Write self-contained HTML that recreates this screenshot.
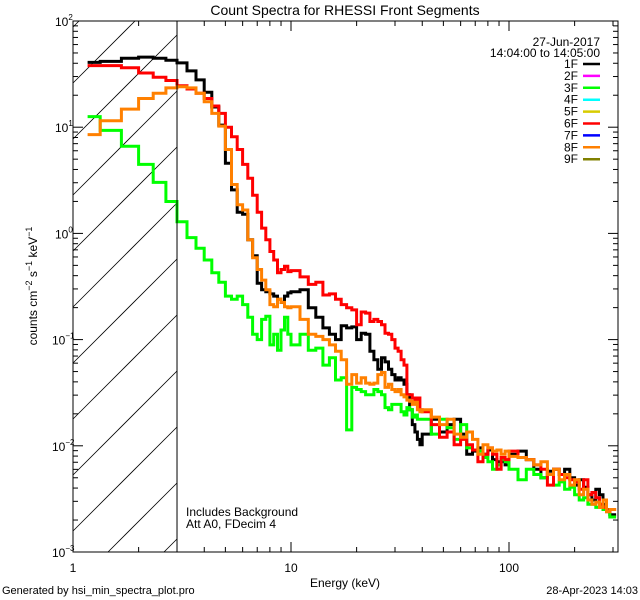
<!DOCTYPE html>
<html><head><meta charset="utf-8"><style>
html,body{margin:0;padding:0;background:#fff;width:640px;height:600px;overflow:hidden}
svg{display:block;font-family:"Liberation Sans",sans-serif}
</style></head><body>
<svg id="chart" width="640" height="600" viewBox="0 0 640 600" xmlns="http://www.w3.org/2000/svg" overflow="hidden">
<rect width="640" height="600" fill="#fff"/>
<defs><clipPath id="plotclip"><rect x="73" y="21" width="545" height="531"/></clipPath></defs>
<text x="345" y="15" font-size="14" text-anchor="middle">Count Spectra for RHESSI Front Segments</text>
<g id="hatch"></g>
<g id="series" clip-path="url(#plotclip)"></g>
<g id="axes"></g>
<g font-size="12">
<text x="600" y="46" text-anchor="end">27-Jun-2017</text>
<text x="600" y="57" text-anchor="end">14:04:00 to 14:05:00</text>
</g>
<g id="legend-entries" font-size="12"></g>
<text x="186" y="516" font-size="12">Includes Background</text>
<text x="186" y="528" font-size="12">Att A0, FDecim 4</text>
<text x="345" y="587" font-size="12" text-anchor="middle">Energy (keV)</text>
<text transform="translate(37,286) rotate(-90)" font-size="12" text-anchor="middle">counts cm<tspan dy="-5" font-size="9">−2</tspan><tspan dy="5"> s</tspan><tspan dy="-5" font-size="9">−1</tspan><tspan dy="5"> keV</tspan><tspan dy="-5" font-size="9">−1</tspan></text>
<text x="2" y="594" font-size="11">Generated by hsi_min_spectra_plot.pro</text>
<text x="638" y="594" font-size="11" text-anchor="end">28-Apr-2023 14:03</text>
</svg>
<script>
const binEdgesKeV = [1,1.3333,1.6667,2,2.3333,2.6667,3,3.3333,3.6667,4,4.3333,4.6667,5,5.3333,5.6667,6,6.3333,6.6667,7,7.3333,7.6667,8,8.3333,8.6667,9,9.3333,9.6667,10,
11,12,13,14,15,16,17,18,19,20,21,22,23,24,25,26,27,28,29,30,31,32,33,34,35,36,37,38,39,40,
44,48,52,56,60,64,68,72,76,80,84,88,92,96,100,
110,120,130,140,150,160,170,180,190,200,210,220,230,240,250,260,270,280,290,310];
const seriesNames = ["1F","3F","6F","8F"];
const log10Counts1F = [1.61,1.62,1.65,1.66,1.65,1.63,1.605,1.53,1.445,1.33,1.19,1.02,0.66,0.41,0.20,0.18,-0.06,-0.21,-0.47,-0.53,-0.55,-0.57,-0.59,-0.62,-0.65,-0.59,-0.56,
-0.55,-0.53,-0.70,-0.79,-0.89,-0.95,-1.00,-0.87,-0.89,-0.88,-1.00,-0.94,-0.95,-1.11,-1.19,-1.28,-1.17,-1.21,-1.28,-1.33,-1.38,-1.36,-1.38,-1.42,-1.52,-1.66,-1.80,-1.87,-1.94,-1.99,
-1.89,-1.75,-1.87,-1.80,-1.75,-1.89,-2.08,-2.05,-2.02,-2.08,-2.04,-2.13,-2.15,-2.15,-2.18,
-2.08,-2.05,-2.13,-2.22,-2.30,-2.24,-2.22,-2.27,-2.22,-2.30,-2.37,-2.32,-2.39,-2.46,-2.51,-2.41,-2.46,-2.55,-2.60,-2.65];
const log10Counts3F = [1.10,0.97,0.82,0.65,0.48,0.30,0.11,-0.04,-0.14,-0.25,-0.37,-0.46,-0.59,-0.62,-0.59,-0.67,-0.79,-0.95,-1.00,-0.81,-0.78,-1.05,-0.95,-1.10,-0.91,-0.79,-0.95,
-1.05,-0.95,-1.10,-1.08,-1.24,-1.17,-1.38,-1.36,-1.85,-1.45,-1.47,-1.49,-1.52,-1.52,-1.47,-1.49,-1.52,-1.64,-1.66,-1.61,-1.61,-1.61,-1.68,-1.71,-1.64,-1.66,-1.73,-1.71,-1.75,-1.75,
-1.75,-1.89,-1.75,-1.83,-1.94,-1.80,-2.02,-2.04,-2.05,-2.11,-2.15,-2.22,-2.18,-2.13,-2.15,
-2.22,-2.32,-2.22,-2.27,-2.30,-2.27,-2.37,-2.34,-2.41,-2.39,-2.46,-2.51,-2.49,-2.55,-2.55,-2.58,-2.55,-2.60,-2.62,-2.67];
const log10Counts6F = [1.58,1.58,1.56,1.51,1.47,1.44,1.39,1.36,1.32,1.27,1.20,1.13,1.00,0.91,0.79,0.65,0.52,0.36,0.20,0.05,-0.06,-0.17,-0.25,-0.37,-0.34,-0.31,-0.36,
-0.35,-0.41,-0.48,-0.46,-0.58,-0.57,-0.62,-0.67,-0.70,-0.72,-0.86,-0.74,-0.75,-0.83,-0.81,-0.83,-0.86,-0.94,-0.95,-1.00,-1.08,-1.11,-1.19,-1.24,-1.52,-1.52,-1.55,-1.57,-1.55,-1.66,
-1.68,-1.80,-1.92,-1.87,-1.99,-1.94,-1.99,-2.04,-2.15,-2.08,-2.02,-2.08,-2.22,-2.11,-2.13,
-2.05,-2.11,-2.13,-2.18,-2.22,-2.37,-2.22,-2.27,-2.30,-2.32,-2.34,-2.41,-2.32,-2.46,-2.44,-2.49,-2.55,-2.58,-2.62,-2.60];
const log10Counts8F = [0.93,1.06,1.17,1.27,1.32,1.37,1.38,1.37,1.32,1.24,1.13,1.01,0.79,0.46,0.27,0.22,-0.06,-0.23,-0.34,-0.44,-0.53,-0.67,-0.69,-0.62,-0.65,-0.69,-0.70,
-0.69,-0.81,-0.95,-0.97,-1.00,-1.05,-1.11,-1.19,-1.42,-1.33,-1.41,-1.36,-1.41,-1.42,-1.41,-1.33,-1.31,-1.45,-1.42,-1.47,-1.49,-1.47,-1.52,-1.54,-1.57,-1.58,-1.61,-1.59,-1.66,-1.68,
-1.66,-1.73,-1.80,-1.75,-1.89,-1.92,-1.87,-1.94,-2.08,-1.99,-2.02,-2.05,-2.04,-2.08,-2.05,
-2.10,-2.11,-2.13,-2.18,-2.15,-2.27,-2.22,-2.32,-2.27,-2.37,-2.32,-2.46,-2.41,-2.51,-2.55,-2.53,-2.58,-2.51,-2.62,-2.60];
const yTickExponents = [2,1,0,-1,-2,-3];
const xTickLabels = ["1","10","100"];
const legendLabels = ["1F","2F","3F","4F","5F","6F","7F","8F","9F"];
const legendColors = ["#000000","#ff00ff","#00ff00","#00ffff","#d8cc00","#ff0000","#0000ff","#ff8000","#808000"];

const NS="http://www.w3.org/2000/svg";
const X0=73,X1=618,Y0=21,Y1=552,XDEC=218,YDEC=(Y1-Y0)/5;
function xs(e){return X0+XDEC*Math.log10(e);}
function ys(l){return Y0+(2-l)*YDEC;}
function mk(tag,attrs,parent){const el=document.createElementNS(NS,tag);for(const k in attrs)el.setAttribute(k,attrs[k]);parent.appendChild(el);return el;}

// hatch: lines y = b - (x - 73), clipped analytically to region x in [73,177], y in [21,552]
const hatch=document.getElementById('hatch');
const HX1=xs(3);
for(let b=83-112;b<552+110;b+=56){
  const xa=Math.max(73, 73+(b-552));
  const xb=Math.min(HX1, 73+(b-21));
  if(xb<=xa)continue;
  const h=mk('line',{x1:xa,y1:b-(xa-73),x2:xb,y2:b-(xb-73),stroke:'#000','stroke-width':0.8},hatch);
  
  
}

// series
const seriesGroup=document.getElementById('series');
const seriesData=[log10Counts1F,log10Counts3F,log10Counts6F,log10Counts8F];
const seriesColors=["#000000","#00ff00","#ff0000","#ff8000"];
seriesData.forEach((vals,si)=>{
  let d="";
  for(let i=0;i<vals.length;i++){
    const xa=i===0?xs((binEdgesKeV[0]+binEdgesKeV[1])/2):xs(binEdgesKeV[i]);
    const xb=Math.min(X1,xs(binEdgesKeV[i+1]));
    const y=ys(vals[i]);
    d+=(i===0?"M":"L")+xa.toFixed(1)+","+y.toFixed(1)+"L"+xb.toFixed(1)+","+y.toFixed(1);
  }
  const p=mk('path',{d:d,fill:'none',stroke:seriesColors[si],'stroke-width':3,'stroke-linejoin':'miter'},seriesGroup);
  
  
});

// axes
const axes=document.getElementById('axes');
const frame=mk('rect',{x:X0,y:Y0,width:X1-X0,height:Y1-Y0,fill:'none',stroke:'#000','stroke-width':1},axes);


const vline=mk('line',{x1:xs(3),y1:Y0,x2:xs(3),y2:Y1,stroke:'#000','stroke-width':1},axes);


for(let dec=0;dec<3;dec++){
  for(let m=1;m<10;m++){
    const e=Math.pow(10,dec)*m; if(e>316)break;
    const x=xs(e), len=m===1?10:5;
    const t1=mk('line',{x1:x,y1:Y1,x2:x,y2:Y1-len,stroke:'#000'},axes);
    
    
    const t2=mk('line',{x1:x,y1:Y0,x2:x,y2:Y0+len,stroke:'#000'},axes);
    
    
  }
  const lb=mk('text',{x:xs(Math.pow(10,dec)),y:572,'font-size':12,'text-anchor':'middle'},axes);
  lb.textContent=xTickLabels[dec];
  
  
}
yTickExponents.forEach((ex,i)=>{
  for(let m=1;m<10;m++){
    const l=ex+Math.log10(m); if(l>2.0001)break;
    const y=ys(l), len=m===1?10:5;
    const t1=mk('line',{x1:X0,y1:y,x2:X0+len,y2:y,stroke:'#000'},axes);
    
    
    const t2=mk('line',{x1:X1,y1:y,x2:X1-len,y2:y,stroke:'#000'},axes);
    
    
  }
  const lb=mk('text',{x:ex<0?52:55,y:ys(ex)+5,'font-size':12},axes);
  
  
  lb.appendChild(document.createTextNode("10"));
  const sup=mk('tspan',{dy:-6,'font-size':8},lb);
  sup.textContent=String(ex).replace('-','−');
});

// legend
const leg=document.getElementById('legend-entries');
legendLabels.forEach((lab,i)=>{
  const y=64+i*11.9;
  const t=mk('text',{x:578,y:y+4,'text-anchor':'end'},leg);
  t.textContent=lab;
  
  
  const l=mk('line',{x1:583,y1:y,x2:600,y2:y,stroke:legendColors[i],'stroke-width':2.5},leg);
  
  
});
</script>
</body></html>
